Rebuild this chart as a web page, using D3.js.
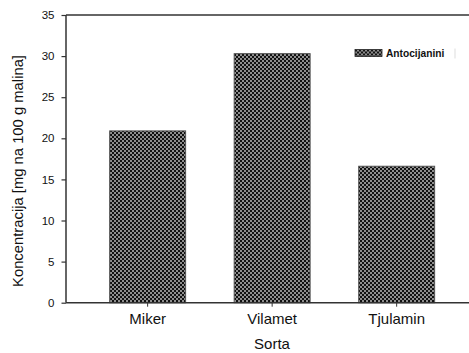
<!DOCTYPE html>
<html>
<head>
<meta charset="utf-8">
<script src="https://cdn.jsdelivr.net/npm/d3@7/dist/d3.min.js"></script>
<style>
  html, body { margin: 0; padding: 0; background: #fff; }
  svg { display: block; font-family: "Liberation Sans", Arial, sans-serif; }
</style>
</head>
<body>
<script>
// Anthocyanin content per raspberry variety
const categories = ["Miker", "Vilamet", "Tjulamin"];
const values = [20.9, 30.3, 16.6];
const yTicks = [0, 5, 10, 15, 20, 25, 30, 35];
const seriesName = "Antocijanini";
const xTitle = "Sorta";
const yTitle = "Koncentracija [mg na 100 g malina]";

const W = 469, H = 353;
const plotLeft = 66, plotTop = 15, plotBottom = 302.7, plotRight = 469;

const svg = d3.select("body").append("svg")
  .attr("width", W).attr("height", H);

// checkerboard fill
const defs = svg.append("defs");
const pat = defs.append("pattern")
  .attr("id", "checker").attr("patternUnits", "userSpaceOnUse")
  .attr("width", 4).attr("height", 4);
pat.append("rect").attr("width", 4).attr("height", 4).attr("fill", "#8e8e8e");
pat.append("rect").attr("x", 0).attr("y", 0).attr("width", 2).attr("height", 2).attr("fill", "#111");
pat.append("rect").attr("x", 2).attr("y", 2).attr("width", 2).attr("height", 2).attr("fill", "#111");

const y = d3.scaleLinear().domain([0, 35]).range([plotBottom, plotTop]);
const x = d3.scaleBand().domain(categories).range([61.1, 483.2]).padding(0.39);

// bars
svg.append("g").selectAll("rect").data(categories).join("rect")
  .attr("x", d => x(d))
  .attr("y", (d, i) => y(values[i]))
  .attr("width", x.bandwidth())
  .attr("height", (d, i) => y(0) - y(values[i]))
  .attr("fill", "url(#checker)")
  .attr("stroke", "#555").attr("stroke-width", 1);

// y axis
const yAxis = svg.append("g").attr("transform", `translate(${plotLeft},0)`)
  .call(d3.axisLeft(y).tickValues(yTicks).tickSize(4.5).tickPadding(7).tickFormat(d3.format("d")));
yAxis.select(".domain").remove();
yAxis.selectAll("line").attr("stroke", "#333").attr("stroke-width", 1.2);
yAxis.selectAll("text").attr("font-size", 11.5).attr("fill", "#111")
  .attr("font-family", "Liberation Sans, Arial, sans-serif");

// x axis
const xAxis = svg.append("g").attr("transform", `translate(0,${plotBottom})`)
  .call(d3.axisBottom(x).tickSize(4).tickPadding(7));
xAxis.select(".domain").remove();
xAxis.selectAll("line").attr("stroke", "#333").attr("stroke-width", 1);
xAxis.selectAll("text").attr("font-size", 15).attr("fill", "#111")
  .attr("font-family", "Liberation Sans, Arial, sans-serif");

// frame lines: left, bottom, top
svg.append("line").attr("x1", plotLeft).attr("x2", plotLeft).attr("y1", plotTop).attr("y2", plotBottom)
  .attr("stroke", "#333").attr("stroke-width", 1.5);
svg.append("line").attr("x1", plotLeft).attr("x2", plotRight).attr("y1", plotBottom).attr("y2", plotBottom)
  .attr("stroke", "#333").attr("stroke-width", 1.5);
svg.append("line").attr("x1", plotLeft).attr("x2", plotRight).attr("y1", plotTop).attr("y2", plotTop)
  .attr("stroke", "#333").attr("stroke-width", 1.5);

// titles
svg.append("text").attr("x", 272).attr("y", 349).attr("text-anchor", "middle")
  .attr("font-size", 15).attr("fill", "#111").text(xTitle);
svg.append("text")
  .attr("transform", "translate(23,171) rotate(-90)")
  .attr("text-anchor", "middle").attr("font-size", 14.8).attr("fill", "#111")
  .text(yTitle);

// legend
const lg = svg.append("g").attr("transform", "translate(355,49.5)");
lg.append("rect").attr("width", 27).attr("height", 7)
  .attr("fill", "url(#checker)").attr("stroke", "#222").attr("stroke-width", 0.8);
lg.append("text").attr("x", 31).attr("y", 7.8).attr("font-size", 10.2)
  .attr("font-weight", "bold").attr("fill", "#111").text(seriesName);
lg.append("line").attr("x1", 100).attr("x2", 100).attr("y1", -1).attr("y2", 9)
  .attr("stroke", "#ddd").attr("stroke-width", 1);
</script>
</body>
</html>
